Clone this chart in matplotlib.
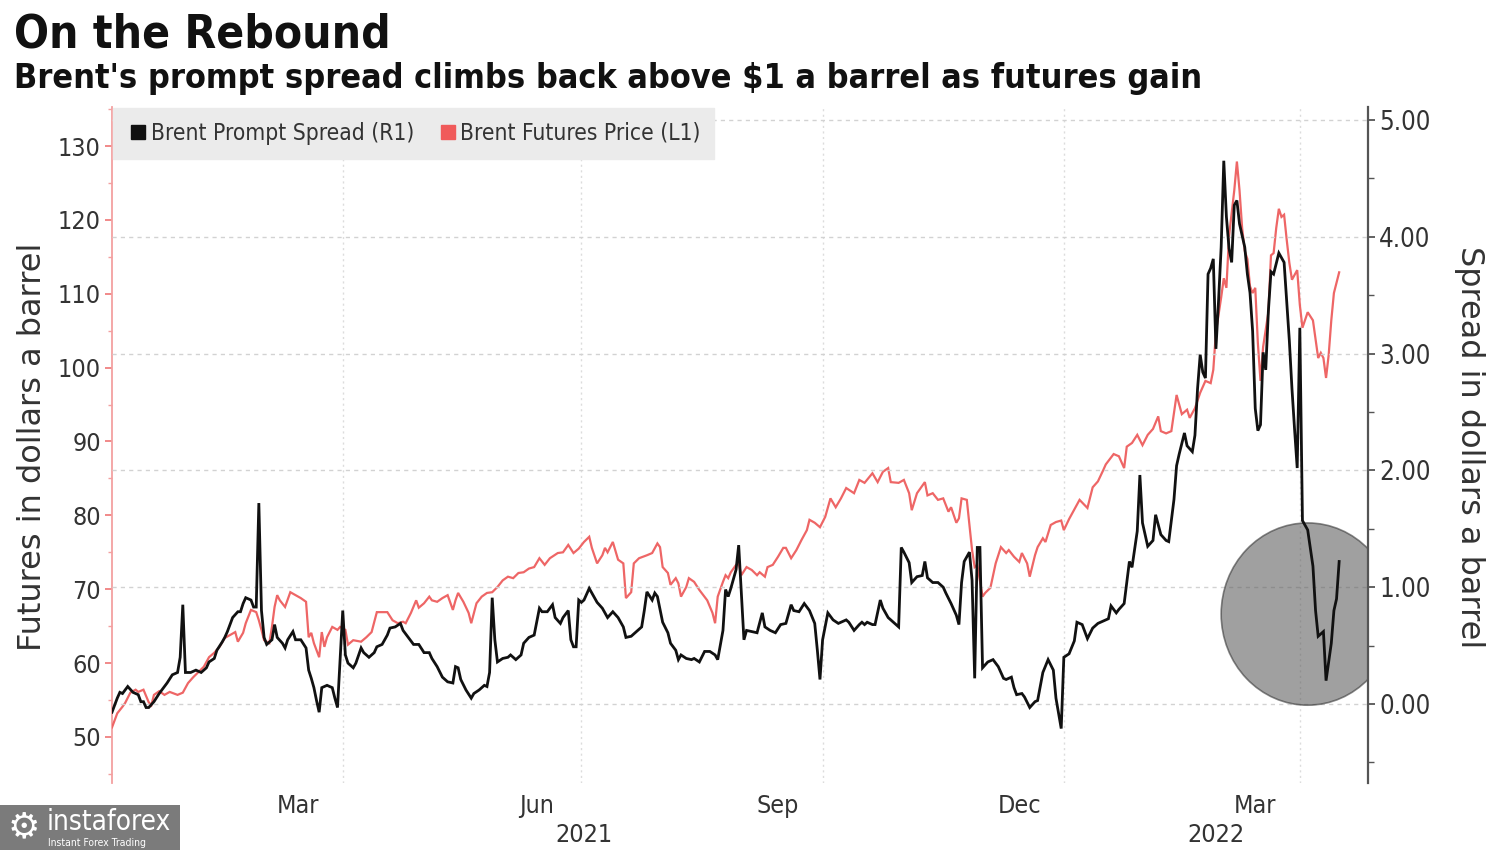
import matplotlib
matplotlib.use('Agg')
import matplotlib.pyplot as plt
from matplotlib.lines import Line2D
from matplotlib.patches import Ellipse, Rectangle
from matplotlib import font_manager as fm
import pandas as pd

# ---------------- data ----------------
futures_dates = [
    '2021-01-03', '2021-01-05', '2021-01-07', '2021-01-08', '2021-01-10', '2021-01-12', '2021-01-13', '2021-01-15',
    '2021-01-17', '2021-01-18', '2021-01-19', '2021-01-21', '2021-01-23', '2021-01-25', '2021-01-28', '2021-01-30',
    '2021-02-01', '2021-02-03', '2021-02-05', '2021-02-07', '2021-02-09', '2021-02-11', '2021-02-13', '2021-02-15',
    '2021-02-17', '2021-02-19', '2021-02-20', '2021-02-22', '2021-02-23', '2021-02-25', '2021-02-27', '2021-02-28',
    '2021-03-01', '2021-03-02', '2021-03-04', '2021-03-05', '2021-03-06', '2021-03-07', '2021-03-08', '2021-03-10',
    '2021-03-12', '2021-03-14', '2021-03-16', '2021-03-18', '2021-03-19', '2021-03-20', '2021-03-21', '2021-03-23',
    '2021-03-24', '2021-03-25', '2021-03-26', '2021-03-28', '2021-03-30', '2021-03-31', '2021-04-02', '2021-04-03',
    '2021-04-05', '2021-04-08', '2021-04-10', '2021-04-12', '2021-04-14', '2021-04-16', '2021-04-18', '2021-04-20',
    '2021-04-22', '2021-04-24', '2021-04-25', '2021-04-27', '2021-04-29', '2021-04-30', '2021-05-02', '2021-05-04',
    '2021-05-05', '2021-05-07', '2021-05-09', '2021-05-11', '2021-05-13', '2021-05-14', '2021-05-15', '2021-05-17',
    '2021-05-19', '2021-05-20', '2021-05-22', '2021-05-24', '2021-05-26', '2021-05-28', '2021-05-30', '2021-06-01',
    '2021-06-03', '2021-06-05', '2021-06-07', '2021-06-09', '2021-06-11', '2021-06-13', '2021-06-15', '2021-06-17',
    '2021-06-19', '2021-06-22', '2021-06-24', '2021-06-26', '2021-06-28', '2021-06-30', '2021-07-02', '2021-07-04',
    '2021-07-05', '2021-07-07', '2021-07-09', '2021-07-10', '2021-07-11', '2021-07-13', '2021-07-15', '2021-07-17',
    '2021-07-18', '2021-07-20', '2021-07-21', '2021-07-23', '2021-07-26', '2021-07-28', '2021-07-30', '2021-07-31',
    '2021-08-01', '2021-08-03', '2021-08-04', '2021-08-06', '2021-08-07', '2021-08-08', '2021-08-10', '2021-08-11',
    '2021-08-13', '2021-08-15', '2021-08-18', '2021-08-20', '2021-08-21', '2021-08-22', '2021-08-24', '2021-08-25',
    '2021-08-26', '2021-08-27', '2021-08-29', '2021-08-30', '2021-08-31', '2021-09-02', '2021-09-04', '2021-09-06',
    '2021-09-07', '2021-09-09', '2021-09-10', '2021-09-12', '2021-09-14', '2021-09-16', '2021-09-17', '2021-09-19',
    '2021-09-21', '2021-09-23', '2021-09-25', '2021-09-26', '2021-09-28', '2021-09-30', '2021-10-02', '2021-10-04',
    '2021-10-06', '2021-10-08', '2021-10-10', '2021-10-13', '2021-10-15', '2021-10-17', '2021-10-20', '2021-10-22',
    '2021-10-24', '2021-10-26', '2021-10-27', '2021-10-30', '2021-11-01', '2021-11-03', '2021-11-04', '2021-11-06',
    '2021-11-09', '2021-11-10', '2021-11-12', '2021-11-14', '2021-11-16', '2021-11-18', '2021-11-19', '2021-11-21',
    '2021-11-22', '2021-11-23', '2021-11-25', '2021-11-27', '2021-11-28', '2021-11-29', '2021-12-01', '2021-12-02',
    '2021-12-04', '2021-12-06', '2021-12-08', '2021-12-10', '2021-12-11', '2021-12-13', '2021-12-15', '2021-12-16',
    '2021-12-18', '2021-12-19', '2021-12-21', '2021-12-22', '2021-12-24', '2021-12-25', '2021-12-27', '2021-12-29',
    '2021-12-31', '2022-01-01', '2022-01-03', '2022-01-05', '2022-01-07', '2022-01-10', '2022-01-12', '2022-01-14',
    '2022-01-16', '2022-01-17', '2022-01-20', '2022-01-22', '2022-01-24', '2022-01-25', '2022-01-27', '2022-01-29',
    '2022-01-31', '2022-02-02', '2022-02-04', '2022-02-06', '2022-02-07', '2022-02-09', '2022-02-11', '2022-02-13',
    '2022-02-15', '2022-02-17', '2022-02-18', '2022-02-20', '2022-02-22', '2022-02-24', '2022-02-26', '2022-02-27',
    '2022-02-28', '2022-03-02', '2022-03-03', '2022-03-04', '2022-03-05', '2022-03-07', '2022-03-08', '2022-03-09',
    '2022-03-10', '2022-03-11', '2022-03-12', '2022-03-13', '2022-03-14', '2022-03-15', '2022-03-16', '2022-03-17',
    '2022-03-18', '2022-03-20', '2022-03-21', '2022-03-22', '2022-03-23', '2022-03-24', '2022-03-25', '2022-03-26',
    '2022-03-27', '2022-03-28', '2022-03-29', '2022-03-31', '2022-04-01', '2022-04-02', '2022-04-04', '2022-04-06',
    '2022-04-08', '2022-04-09', '2022-04-10', '2022-04-11', '2022-04-12', '2022-04-13', '2022-04-14', '2022-04-16',
]
futures_price = [
    51.3, 53.2, 54.1, 54.6, 56.0, 56.4, 56.1, 56.4,
    54.7, 54.3, 55.7, 56.2, 55.7, 56.1, 55.7, 56.0,
    57.3, 58.1, 58.8, 59.5, 60.8, 61.4, 62.2, 63.4,
    63.8, 64.2, 62.9, 64.1, 65.4, 67.2, 66.9, 65.8,
    64.5, 63.1, 62.7, 64.9, 67.6, 69.2, 68.5, 67.6,
    69.6, 69.2, 68.8, 68.3, 63.5, 64.1, 62.7, 60.8,
    64.2, 62.2, 63.5, 64.9, 64.5, 64.9, 64.5, 62.5,
    63.1, 62.9, 63.5, 64.2, 66.9, 66.9, 66.9, 65.8,
    65.4, 65.6, 65.4, 66.8, 68.5, 67.5, 68.1, 69.0,
    68.5, 68.3, 68.8, 69.2, 67.2, 68.5, 69.5, 68.3,
    66.8, 65.4, 68.1, 69.0, 69.5, 69.6, 70.3, 71.2,
    71.7, 71.5, 72.2, 72.3, 72.8, 73.0, 74.2, 73.3,
    74.2, 74.9, 75.0, 76.0, 74.9, 75.5, 76.4, 77.1,
    75.6, 73.5, 74.6, 75.6, 75.0, 76.4, 74.0, 73.5,
    68.8, 69.6, 73.5, 74.2, 74.6, 74.9, 76.2, 75.7,
    73.0, 72.2, 70.6, 71.5, 70.8, 69.0, 70.3, 71.5,
    71.0, 69.9, 68.5, 66.8, 65.4, 69.0, 71.0, 71.9,
    71.5, 72.3, 73.3, 73.5, 71.9, 73.0, 72.6, 71.9,
    72.3, 71.7, 73.0, 73.3, 74.4, 75.6, 75.6, 74.2,
    75.3, 76.7, 78.0, 79.4, 79.0, 78.4, 79.8, 82.3,
    81.1, 82.3, 83.7, 83.0, 84.8, 84.4, 85.7, 84.5,
    85.9, 86.4, 84.5, 84.4, 84.8, 83.0, 80.7, 83.0,
    84.5, 82.7, 83.0, 82.1, 82.3, 80.5, 81.1, 79.0,
    79.6, 82.3, 82.1, 75.3, 73.0, 73.3, 69.0, 69.5,
    70.2, 73.5, 75.7, 74.9, 75.3, 74.4, 73.7, 74.9,
    73.5, 71.7, 74.6, 75.7, 76.9, 76.4, 78.7, 79.1,
    79.3, 78.0, 79.5, 80.8, 82.1, 81.0, 83.8, 84.6,
    86.1, 86.9, 88.3, 88.0, 86.4, 89.3, 89.8, 90.9,
    89.5, 90.9, 91.7, 93.4, 91.4, 91.1, 91.4, 96.3,
    93.7, 94.3, 93.2, 94.5, 96.6, 98.2, 97.9, 99.7,
    104.8, 109.5, 112.1, 110.8, 117.8, 124.0, 127.9, 124.0,
    118.9, 115.8, 114.7, 111.0, 110.1, 110.8, 103.3, 98.2,
    102.8, 107.5, 115.2, 115.5, 118.9, 121.5, 120.4, 120.7,
    117.3, 114.2, 111.9, 113.2, 108.5, 105.4, 107.5, 106.4,
    101.3, 102.0, 101.3, 98.6, 101.7, 106.4, 110.1, 112.9,
]

spread_dates = [
    '2021-01-03', '2021-01-05', '2021-01-06', '2021-01-07', '2021-01-09', '2021-01-11', '2021-01-13', '2021-01-14',
    '2021-01-15', '2021-01-16', '2021-01-17', '2021-01-19', '2021-01-21', '2021-01-22', '2021-01-24', '2021-01-26',
    '2021-01-28', '2021-01-29', '2021-01-30', '2021-01-31', '2021-02-02', '2021-02-04', '2021-02-06', '2021-02-08',
    '2021-02-09', '2021-02-11', '2021-02-12', '2021-02-14', '2021-02-15', '2021-02-16', '2021-02-18', '2021-02-20',
    '2021-02-21', '2021-02-22', '2021-02-23', '2021-02-25', '2021-02-26', '2021-02-27', '2021-02-28', '2021-03-01',
    '2021-03-02', '2021-03-03', '2021-03-05', '2021-03-06', '2021-03-07', '2021-03-09', '2021-03-10', '2021-03-11',
    '2021-03-13', '2021-03-14', '2021-03-16', '2021-03-18', '2021-03-19', '2021-03-20', '2021-03-21', '2021-03-22',
    '2021-03-23', '2021-03-24', '2021-03-26', '2021-03-28', '2021-03-29', '2021-03-30', '2021-04-01', '2021-04-02',
    '2021-04-03', '2021-04-05', '2021-04-06', '2021-04-08', '2021-04-09', '2021-04-11', '2021-04-13', '2021-04-14',
    '2021-04-16', '2021-04-18', '2021-04-19', '2021-04-21', '2021-04-23', '2021-04-24', '2021-04-26', '2021-04-28',
    '2021-04-30', '2021-05-02', '2021-05-04', '2021-05-05', '2021-05-07', '2021-05-09', '2021-05-11', '2021-05-13',
    '2021-05-14', '2021-05-15', '2021-05-16', '2021-05-18', '2021-05-20', '2021-05-21', '2021-05-23', '2021-05-25',
    '2021-05-26', '2021-05-27', '2021-05-28', '2021-05-29', '2021-05-30', '2021-06-01', '2021-06-03', '2021-06-04',
    '2021-06-06', '2021-06-08', '2021-06-09', '2021-06-11', '2021-06-13', '2021-06-15', '2021-06-16', '2021-06-18',
    '2021-06-20', '2021-06-21', '2021-06-23', '2021-06-24', '2021-06-26', '2021-06-27', '2021-06-28', '2021-06-29',
    '2021-06-30', '2021-07-01', '2021-07-02', '2021-07-04', '2021-07-05', '2021-07-07', '2021-07-09', '2021-07-11',
    '2021-07-13', '2021-07-15', '2021-07-17', '2021-07-18', '2021-07-20', '2021-07-22', '2021-07-24', '2021-07-25',
    '2021-07-26', '2021-07-28', '2021-07-29', '2021-07-30', '2021-08-01', '2021-08-03', '2021-08-04', '2021-08-06',
    '2021-08-07', '2021-08-08', '2021-08-10', '2021-08-12', '2021-08-13', '2021-08-15', '2021-08-17', '2021-08-19',
    '2021-08-21', '2021-08-22', '2021-08-24', '2021-08-25', '2021-08-26', '2021-08-27', '2021-08-29', '2021-08-30',
    '2021-08-31', '2021-09-01', '2021-09-02', '2021-09-04', '2021-09-06', '2021-09-08', '2021-09-09', '2021-09-11',
    '2021-09-13', '2021-09-15', '2021-09-17', '2021-09-19', '2021-09-20', '2021-09-22', '2021-09-24', '2021-09-26',
    '2021-09-28', '2021-09-29', '2021-09-30', '2021-10-01', '2021-10-03', '2021-10-05', '2021-10-07', '2021-10-10',
    '2021-10-11', '2021-10-13', '2021-10-15', '2021-10-16', '2021-10-17', '2021-10-18', '2021-10-20', '2021-10-21',
    '2021-10-23', '2021-10-24', '2021-10-26', '2021-10-28', '2021-10-30', '2021-10-31', '2021-11-01', '2021-11-03',
    '2021-11-04', '2021-11-06', '2021-11-08', '2021-11-09', '2021-11-10', '2021-11-12', '2021-11-14', '2021-11-16',
    '2021-11-17', '2021-11-19', '2021-11-21', '2021-11-22', '2021-11-23', '2021-11-24', '2021-11-26', '2021-11-27',
    '2021-11-28', '2021-11-29', '2021-11-30', '2021-12-01', '2021-12-03', '2021-12-05', '2021-12-07', '2021-12-09',
    '2021-12-10', '2021-12-12', '2021-12-13', '2021-12-14', '2021-12-16', '2021-12-17', '2021-12-19', '2021-12-21',
    '2021-12-22', '2021-12-24', '2021-12-26', '2021-12-28', '2021-12-29', '2021-12-31', '2022-01-01', '2022-01-03',
    '2022-01-05', '2022-01-06', '2022-01-08', '2022-01-10', '2022-01-12', '2022-01-14', '2022-01-16', '2022-01-18',
    '2022-01-19', '2022-01-21', '2022-01-22', '2022-01-24', '2022-01-26', '2022-01-27', '2022-01-29', '2022-01-30',
    '2022-01-31', '2022-02-02', '2022-02-04', '2022-02-05', '2022-02-07', '2022-02-09', '2022-02-10', '2022-02-12',
    '2022-02-13', '2022-02-14', '2022-02-16', '2022-02-17', '2022-02-19', '2022-02-20', '2022-02-21', '2022-02-22',
    '2022-02-23', '2022-02-24', '2022-02-25', '2022-02-26', '2022-02-27', '2022-02-28', '2022-03-01', '2022-03-02',
    '2022-03-03', '2022-03-04', '2022-03-05', '2022-03-06', '2022-03-07', '2022-03-08', '2022-03-09', '2022-03-11',
    '2022-03-12', '2022-03-13', '2022-03-14', '2022-03-15', '2022-03-16', '2022-03-17', '2022-03-18', '2022-03-19',
    '2022-03-20', '2022-03-21', '2022-03-22', '2022-03-24', '2022-03-26', '2022-03-27', '2022-03-28', '2022-03-29',
    '2022-03-30', '2022-03-31', '2022-04-01', '2022-04-02', '2022-04-04', '2022-04-06', '2022-04-07', '2022-04-08',
    '2022-04-10', '2022-04-11', '2022-04-13', '2022-04-14', '2022-04-15', '2022-04-16',
]
spread_value = [
    -0.07, 0.05, 0.10, 0.09, 0.15, 0.10, 0.08, 0.02,
    0.02, -0.03, -0.03, 0.02, 0.09, 0.12, 0.18, 0.25,
    0.27, 0.40, 0.85, 0.27, 0.27, 0.29, 0.27, 0.31,
    0.36, 0.39, 0.46, 0.53, 0.57, 0.62, 0.74, 0.79,
    0.79, 0.86, 0.91, 0.89, 0.83, 0.83, 1.72, 0.80,
    0.57, 0.51, 0.55, 0.68, 0.57, 0.52, 0.48, 0.55,
    0.62, 0.55, 0.55, 0.48, 0.29, 0.22, 0.14, 0.03,
    -0.07, 0.14, 0.16, 0.14, 0.05, -0.03, 0.80, 0.42,
    0.35, 0.31, 0.35, 0.48, 0.44, 0.40, 0.44, 0.49,
    0.51, 0.59, 0.65, 0.66, 0.69, 0.63, 0.57, 0.51,
    0.51, 0.44, 0.44, 0.39, 0.32, 0.23, 0.19, 0.18,
    0.32, 0.31, 0.21, 0.12, 0.05, 0.09, 0.12, 0.16,
    0.15, 0.27, 0.91, 0.55, 0.36, 0.39, 0.40, 0.42,
    0.38, 0.42, 0.52, 0.57, 0.59, 0.82, 0.79, 0.79,
    0.85, 0.74, 0.69, 0.74, 0.80, 0.55, 0.49, 0.49,
    0.89, 0.87, 0.89, 0.99, 0.95, 0.87, 0.82, 0.74,
    0.79, 0.74, 0.66, 0.57, 0.58, 0.62, 0.66, 0.80,
    0.96, 0.89, 0.95, 0.92, 0.70, 0.61, 0.52, 0.46,
    0.38, 0.42, 0.39, 0.38, 0.39, 0.36, 0.45, 0.45,
    0.42, 0.38, 0.63, 0.98, 0.92, 0.99, 1.15, 1.36,
    0.95, 0.55, 0.63, 0.62, 0.61, 0.78, 0.66, 0.63,
    0.61, 0.68, 0.69, 0.85, 0.80, 0.79, 0.86, 0.80,
    0.69, 0.46, 0.21, 0.55, 0.78, 0.72, 0.69, 0.72,
    0.70, 0.63, 0.68, 0.70, 0.68, 0.70, 0.68, 0.68,
    0.89, 0.82, 0.74, 0.70, 0.66, 1.34, 1.30, 1.21,
    1.04, 1.09, 1.10, 1.22, 1.08, 1.04, 1.04, 1.00,
    0.95, 0.86, 0.76, 0.68, 1.04, 1.22, 1.30, 1.06,
    0.22, 1.34, 1.34, 0.31, 0.36, 0.38, 0.32, 0.22,
    0.21, 0.23, 0.14, 0.08, 0.09, 0.06, -0.03, 0.02,
    0.03, 0.27, 0.38, 0.29, 0.05, -0.21, 0.40, 0.43,
    0.54, 0.70, 0.68, 0.56, 0.65, 0.69, 0.71, 0.73,
    0.84, 0.78, 0.81, 0.86, 1.22, 1.17, 1.48, 1.96,
    1.55, 1.35, 1.40, 1.62, 1.45, 1.40, 1.39, 1.75,
    2.04, 2.14, 2.32, 2.21, 2.16, 2.30, 2.70, 2.99,
    2.84, 2.79, 3.68, 3.73, 3.81, 3.04, 3.45, 3.91,
    4.65, 4.17, 3.90, 3.78, 4.27, 4.31, 4.11, 3.91,
    3.68, 3.52, 3.19, 2.53, 2.34, 2.39, 3.01, 2.86,
    3.36, 3.70, 3.68, 3.86, 3.78, 3.45, 3.11, 2.70,
    2.35, 2.02, 3.22, 1.57, 1.49, 1.18, 0.80, 0.58,
    0.62, 0.20, 0.52, 0.80, 0.90, 1.22,
]

month_label_dates = ['2021-03-15', '2021-06-14', '2021-09-14', '2021-12-15', '2022-03-15']
month_labels = ['Mar', 'Jun', 'Sep', 'Dec', 'Mar']
year_label_dates = ['2021-07-02', '2022-02-28']
year_labels = ['2021', '2022']
quarter_grid_dates = ['2021-04-01', '2021-07-01', '2021-10-01', '2022-01-01', '2022-04-01']
left_ticks = [50, 60, 70, 80, 90, 100, 110, 120, 130]
right_ticks = [0, 1, 2, 3, 4, 5]
x_range = ['2021-01-03', '2022-04-27']
highlight_center = ('2022-04-04', 0.77)

# ---------------- fonts ----------------
ttf = fm.fontManager.ttflist
has_cond = any(f.name == 'DejaVu Sans' and str(f.stretch) in ('condensed', 'semi-condensed') for f in ttf)
plt.rcParams['font.family'] = ['DejaVu Sans']
STRETCH = 'condensed' if has_cond else 'normal'

RED = '#ee6666'
BLACK = '#111111'
TXT = '#333333'

fig = plt.figure(figsize=(15, 8.5), dpi=100)
fig.patch.set_facecolor('white')
ax = fig.add_axes([0.07467, 0.07882, 0.83733, 0.79529])
ax2 = ax.twinx()

fd = pd.to_datetime(futures_dates)
sd = pd.to_datetime(spread_dates)

ax.plot(fd, futures_price, color=RED, lw=1.6, zorder=3, solid_joinstyle='miter')
ax.set_xlim(pd.Timestamp(x_range[0]), pd.Timestamp(x_range[1]))
ax.set_ylim(43.77, 135.28)
ax2.set_ylim(-0.676, 5.11)

# highlight circle
cx = pd.Timestamp(highlight_center[0])
ell = Ellipse((matplotlib.dates.date2num(cx), highlight_center[1]), width=66, height=1.56,
              facecolor='#5c5c5c', alpha=0.58, edgecolor='#333333', lw=1.2, zorder=2)
ax2.add_patch(ell)
ax2.plot(sd, spread_value, color=BLACK, lw=2.0, zorder=4, solid_joinstyle='miter')

# spines
for s in ['top', 'bottom', 'right']:
    ax.spines[s].set_visible(False)
for s in ['top', 'bottom', 'left']:
    ax2.spines[s].set_visible(False)
ax.spines['left'].set_color('#f3a0a0')
ax.spines['left'].set_linewidth(1.3)
ax2.spines['right'].set_color('#555555')
ax2.spines['right'].set_linewidth(1.6)

# left ticks
ax.set_yticks(left_ticks)
ax.set_yticks([v + 5 for v in [40] + left_ticks], minor=True)
ax.tick_params(axis='y', which='major', length=5, width=1.3, color='#f08080', labelcolor=TXT,
               labelsize=18, pad=3)
ax.tick_params(axis='y', which='minor', length=3, width=1.0, color='#f3a0a0')
for lbl in ax.get_yticklabels():
    lbl.set_fontstretch(STRETCH)

# right ticks
ax2.set_yticks(right_ticks)
ax2.set_yticklabels([f'{v:.2f}' for v in right_ticks])
ax2.set_yticks([-0.5, 0.5, 1.5, 2.5, 3.5, 4.5], minor=True)
ax2.tick_params(axis='y', which='major', length=5, width=1.3, color='#555555', labelcolor=TXT,
                labelsize=18.5, pad=3)
ax2.tick_params(axis='y', which='minor', length=4, width=1.0, color='#555555')
for lbl in ax2.get_yticklabels():
    lbl.set_fontstretch(STRETCH)

# x ticks: labels at mid-month, grid at quarter starts
ax.set_xticks(pd.to_datetime(month_label_dates))
ax.set_xticklabels(month_labels)
ax.set_xticks(pd.to_datetime(quarter_grid_dates), minor=True)
ax.tick_params(axis='x', which='both', length=0, labelsize=18, labelcolor=TXT, pad=8)
for lbl in ax.get_xticklabels():
    lbl.set_fontstretch(STRETCH)
ax.grid(which='minor', axis='x', color='#dcdcdc', lw=1.0, ls=(0, (1.5, 2.5)))
ax.grid(which='major', axis='x', visible=False)
ax.grid(which='both', axis='y', visible=False)
ax2.grid(which='major', axis='y', color='#d2d2d2', lw=1.0, ls=(0, (3, 3)))
ax2.grid(which='minor', axis='y', visible=False)
ax.set_axisbelow(True)
ax2.set_axisbelow(True)

for d, t in zip(year_label_dates, year_labels):
    ax.text(pd.Timestamp(d), -0.077, t, transform=ax.get_xaxis_transform(), ha='center', va='center',
            fontsize=18, color=TXT, fontstretch=STRETCH)

# axis titles
fig.text(33 / 1500, 1 - 447 / 850, 'Futures in dollars a barrel', rotation=90, ha='center', va='center',
         fontsize=23, color=TXT)
fig.text(1470 / 1500, 1 - 447 / 850, 'Spread in dollars a barrel', rotation=270, ha='center', va='center',
         fontsize=23, color=TXT)

# title / subtitle
fig.text(14 / 1500, 1 - 47 / 850, 'On the Rebound', fontsize=33, fontweight='bold', color='#111111',
         ha='left', va='baseline', fontstretch=STRETCH)
fig.text(14 / 1500, 1 - 88 / 850, "Brent's prompt spread climbs back above $1 a barrel as futures gain",
         fontsize=24.5, fontweight='bold', color='#111111', ha='left', va='baseline', fontstretch=STRETCH)

# legend
handles = [Line2D([], [], marker='s', color=BLACK, ls='None', markersize=10),
           Line2D([], [], marker='s', color='#f05a5a', ls='None', markersize=10)]
leg = ax2.legend(handles, ['Brent Prompt Spread (R1)', 'Brent Futures Price (L1)'], loc='upper left',
                 bbox_to_anchor=(0.001, 0.998), ncol=2, frameon=True, fancybox=False, framealpha=1,
                 facecolor='#ebebeb', edgecolor='#ebebeb', fontsize=16.3, handletextpad=0.05,
                 columnspacing=1.0, borderpad=0.6, handlelength=1.0, borderaxespad=0)
for t in leg.get_texts():
    t.set_color(TXT)
    t.set_fontstretch(STRETCH)
leg.set_zorder(10)

# watermark logo
fig.patches.append(Rectangle((0, 0), 180 / 1500, 45 / 850, transform=fig.transFigure,
                             facecolor='#7b7b7b', edgecolor='none', zorder=0))
fig.text(24 / 1500, 23 / 850, '\u2699', fontsize=26, color='white', ha='center', va='center')
fig.text(47 / 1500, 20 / 850, 'instaforex', fontsize=20, color='white', ha='left', va='baseline',
         fontstretch=STRETCH)
fig.text(48 / 1500, 4 / 850, 'Instant Forex Trading', fontsize=7.5, color='white', ha='left', va='baseline',
         fontstretch=STRETCH)

fig.savefig('out.png', dpi=100, facecolor='white')
